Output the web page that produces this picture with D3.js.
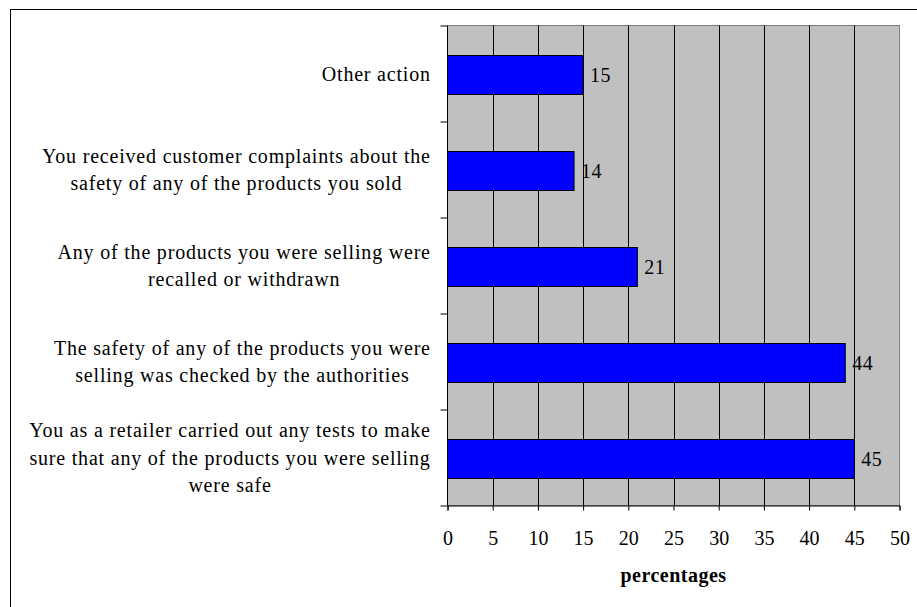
<!DOCTYPE html>
<html>
<head>
<meta charset="utf-8">
<script src="https://cdn.jsdelivr.net/npm/d3@7"></script>
<style>
  html, body { margin: 0; padding: 0; background: #fff; }
  svg { display: block; }
</style>
</head>
<body>
<svg id="chart" width="917" height="607"></svg>
<script>
// Survey actions (top to bottom) and their shares in percent
const categories = [
  ["Other action"],
  ["You received customer complaints about the", "safety of any of the products you sold"],
  ["Any of the products you were selling were", "recalled or withdrawn"],
  ["The safety of any of the products you were", "selling was checked by the authorities"],
  ["You as a retailer carried out any tests to make", "sure that any of the products you were selling", "were safe"]
];
const values = [15, 14, 21, 44, 45];
const xTicks = [0, 5, 10, 15, 20, 25, 30, 35, 40, 45, 50];
const xTitle = "percentages";

const svg = d3.select("#chart");
const plot = { left: 447.5, right: 899.5, top: 25.5, bottom: 505.5 };
const serif = "'Liberation Serif', 'Times New Roman', Times, serif";

// outer frame (runs off the right and bottom edges)
svg.append("rect")
  .attr("x", 10.5).attr("y", 9.5)
  .attr("width", 1000).attr("height", 1000)
  .attr("fill", "#fff").attr("stroke", "#000").attr("stroke-width", 1);

const x = d3.scaleLinear().domain([0, 50]).range([plot.left, plot.right]);
const y = d3.scaleBand().domain(d3.range(categories.length))
  .range([plot.top, plot.bottom]).padding(0);

// plot background
svg.append("rect")
  .attr("x", plot.left).attr("y", plot.top)
  .attr("width", plot.right - plot.left).attr("height", plot.bottom - plot.top)
  .attr("fill", "#c0c0c0").attr("stroke", "#808080").attr("stroke-width", 1);

// vertical gridlines
svg.append("g").selectAll("line")
  .data(xTicks.filter(t => t > 0 && t < 50))
  .join("line")
  .attr("x1", d => Math.round(x(d)) + 0.5).attr("x2", d => Math.round(x(d)) + 0.5)
  .attr("y1", plot.top).attr("y2", plot.bottom)
  .attr("stroke", "#000").attr("stroke-width", 1);

// bars
const barFrac = 0.41;
svg.append("g").selectAll("rect")
  .data(values)
  .join("rect")
  .attr("x", x(0))
  .attr("y", (d, i) => Math.round(y(i) + y.bandwidth() * (1 - barFrac) / 2 + 1) + 0.5)
  .attr("width", d => x(d) - x(0))
  .attr("height", Math.round(y.bandwidth() * barFrac))
  .attr("fill", "#0000ff").attr("stroke", "#000").attr("stroke-width", 1);

// value labels
svg.append("g").selectAll("text")
  .data(values)
  .join("text")
  .attr("x", d => x(d) + 7)
  .attr("y", (d, i) => y(i) + y.bandwidth() / 2 + 8)
  .style("font-family", serif)
  .attr("font-size", 20)
  .attr("letter-spacing", 0.5)
  .attr("fill", "#000")
  .text(d => d);

// x axis
const xAxis = d3.axisBottom(x).tickValues(xTicks).tickSize(5).tickPadding(0).tickFormat(d3.format("d"));
const gx = svg.append("g").attr("transform", `translate(0,${plot.bottom})`).call(xAxis);
gx.select(".domain").attr("stroke", "#000");
gx.selectAll(".tick line").attr("stroke", "#000");
gx.selectAll(".tick text")
  .style("font-family", serif)
  .attr("font-size", 20).attr("fill", "#000")
  .attr("dy", null).attr("y", 39.5);

// y axis: ticks at category boundaries, labels drawn separately
const yBounds = d3.scaleLinear().domain([0, categories.length]).range([plot.top, plot.bottom]);
const yAxis = d3.axisLeft(yBounds).tickValues(d3.range(categories.length + 1))
  .tickSize(7).tickFormat("");
const gy = svg.append("g").attr("transform", `translate(${plot.left},0)`).call(yAxis);
gy.select(".domain").attr("stroke", "#000").attr("d", `M0,${plot.top}V${plot.bottom}`);
gy.selectAll(".tick line").attr("stroke", "#000");

// category labels: block right-aligned at the axis, lines centred within the block
const labelRight = 430;
const lineGap = 27.5;
const labelG = svg.append("g");
categories.forEach((lines, i) => {
  const g = labelG.append("g");
  const texts = g.selectAll("text").data(lines).join("text")
    .style("font-family", serif)
    .attr("font-size", 20)
    .attr("letter-spacing", 0.8)
    .attr("fill", "#000")
    .attr("text-anchor", "start")
    .text(d => d);
  const widths = texts.nodes().map(n => n.getComputedTextLength() - 0.8);
  const blockW = d3.max(widths);
  const cx = labelRight - blockW / 2;
  const cy = y(i) + y.bandwidth() / 2;
  texts.attr("x", (d, j) => cx - widths[j] / 2)
    .attr("y", (d, j) => cy + 7 + (j - (lines.length - 1) / 2) * lineGap);
});

// axis title
svg.append("text")
  .attr("x", (plot.left + plot.right) / 2).attr("y", 582)
  .attr("text-anchor", "middle")
  .style("font-family", serif)
  .attr("font-size", 20).attr("font-weight", "bold")
  .attr("letter-spacing", 0.5)
  .attr("fill", "#000")
  .text(xTitle);
</script>
</body>
</html>
